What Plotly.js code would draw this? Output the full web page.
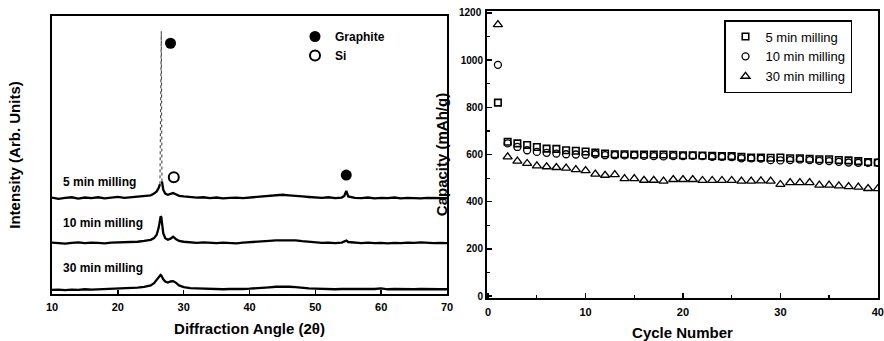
<!DOCTYPE html>
<html>
<head>
<meta charset="utf-8">
<script src="https://cdn.plot.ly/plotly-3.0.1.min.js"></script>
<style>
  html, body { margin: 0; padding: 0; background: #fff; }
  #chart { width: 884px; height: 341px; }
</style>
</head>
<body>
<div id="chart"></div>
<script>
// ---- XRD patterns (2θ in degrees, intensity in arbitrary units above each baseline) ----
const twoTheta = [10,11,12,13,14,15,16,17,18,19,20,21,22,23,24,25,
  25.5,25.9,26.2,26.4,26.5,26.6,26.7,26.9,27.2,27.6,28.0,28.4,28.8,29.3,
  30,31,32,33,34,35,36,37,38,39,40,41,42,43,44,45,46,47,48,49,50,51,52,53,54,
  54.4,54.7,55,
  56,57,58,59,60,61,62,63,64,65,66,67,68,69,70];

const xrd5min = [0.2,-0.3,0.1,0.3,-0.2,0.2,0.0,0.3,-0.1,0.2,0.4,0.1,0.3,0.5,0.6,1.0,
  1.6,2.4,3.6,5.0,40,60,6.0,3.0,1.6,1.2,1.5,1.8,1.4,0.8,
  0.6,0.4,0.2,0.3,0.0,0.2,-0.1,0.1,0.2,0.0,0.2,0.4,0.6,0.9,1.1,1.2,1.0,0.9,0.6,0.4,0.3,0.1,0.3,0.0,0.2,
  0.8,2.6,0.6,
  0.1,0.0,0.2,-0.1,0.1,0.0,0.2,-0.1,0.1,0.0,-0.1,0.1,0.0,-0.1,0.0];

const xrd10min = [0.2,0.0,-0.2,0.1,0.3,0.0,0.2,0.1,-0.1,0.2,0.3,0.2,0.4,0.5,0.8,1.2,
  1.8,3.0,5.5,8.5,9.6,9.4,7.2,3.6,1.8,1.2,1.6,2.3,1.5,0.8,
  0.5,0.3,0.1,0.3,0.1,0.0,0.2,0.1,-0.1,0.2,0.3,0.4,0.6,0.8,1.0,1.0,0.9,1.0,0.7,0.5,0.3,0.1,0.2,0.0,0.2,
  0.5,0.9,0.4,
  0.1,0.0,0.2,0.0,0.1,-0.1,0.1,0.0,0.2,0.1,0.3,0.1,0.0,0.1,0.0];

const xrd30min = [0.0,0.1,-0.1,0.1,0.0,0.2,0.1,0.2,0.3,0.2,0.4,0.5,0.6,0.8,1.1,1.6,
  2.4,3.6,4.6,5.2,5.4,5.2,4.7,3.8,3.0,2.6,3.0,3.1,2.6,1.6,
  1.0,0.6,0.5,0.4,0.3,0.3,0.2,0.3,0.2,0.3,0.4,0.5,0.7,0.9,1.1,1.2,1.1,1.0,0.7,0.5,0.4,0.3,0.3,0.2,0.3,
  0.3,0.4,0.3,
  0.2,0.3,0.2,0.3,0.5,0.2,0.3,0.2,0.3,0.2,0.3,0.2,0.3,0.2,0.2];

// Phase markers above the reflections
const graphiteAngle = [28.0, 54.7];
const graphiteLevel = [90.2, 42.8];
const siAngle = [28.5];
const siLevel = [42.0];

const sampleLabels = ['5 min milling', '10 min milling', '30 min milling'];

// ---- Cycling capacity (mAh/g) ----
const cycles = [1,2,3,4,5,6,7,8,9,10,11,12,13,14,15,16,17,18,19,20,
  21,22,23,24,25,26,27,28,29,30,31,32,33,34,35,36,37,38,39,40];
const cap5min = [820,654,647,640,632,625,624,618,616,613,608,604,601,601,600,600,600,600,599,597,
  597,596,594,593,593,590,587,587,586,587,584,584,582,580,580,577,575,572,568,566];
const cap10min = [980,647,632,618,611,607,604,601,600,599,601,597,597,596,596,594,593,592,593,593,
  594,593,590,590,589,584,584,583,576,575,576,579,576,573,572,569,566,565,565,565];
const cap30min = [1150,590,572,562,552,548,545,542,536,532,517,512,515,498,498,491,491,487,494,494,
  494,490,490,490,490,487,487,488,487,473,481,481,481,470,470,467,464,462,456,455];

const cycleTicks = [0, 10, 20, 30, 40];
const capacityTicks = [0, 200, 400, 600, 800, 1000, 1200];
const capacityTop = 1200;

// ---- drawing ----
const FONT = 'Liberation Sans, Arial, Helvetica, sans-serif';
const stackOffset = [34.5, 18.3, 1.5];   // vertical stacking of the three patterns
const spikeFrom = 26.45, spikeTo = 26.65; // narrow graphite (002) spike drawn with a fine line

function stacked(vals, off) { return vals.map(v => v + off); }

const y5 = stacked(xrd5min, stackOffset[0]);
const y5Solid = y5.map((v, i) => (twoTheta[i] > spikeFrom && twoTheta[i] < spikeTo) ? null : v);
const spikeIdx = twoTheta.map((t, i) => i).filter(i => twoTheta[i] >= 26.4 && twoTheta[i] <= 26.7);

const lineStyle = { color: '#000', width: 2.3 };

const traces = [
  { x: twoTheta, y: y5Solid, mode: 'lines', line: lineStyle, showlegend: false, hoverinfo: 'skip', xaxis: 'x', yaxis: 'y', connectgaps: false },
  { x: spikeIdx.map(i => twoTheta[i]), y: spikeIdx.map(i => y5[i]), mode: 'lines',
    line: { color: '#444', width: 1.1, dash: 'dot' }, showlegend: false, hoverinfo: 'skip', xaxis: 'x', yaxis: 'y' },
  { x: twoTheta, y: stacked(xrd10min, stackOffset[1]), mode: 'lines', line: lineStyle, showlegend: false, hoverinfo: 'skip', xaxis: 'x', yaxis: 'y' },
  { x: twoTheta, y: stacked(xrd30min, stackOffset[2]), mode: 'lines', line: lineStyle, showlegend: false, hoverinfo: 'skip', xaxis: 'x', yaxis: 'y' },
  { x: graphiteAngle, y: graphiteLevel, mode: 'markers', name: 'Graphite', legend: 'legend2',
    marker: { symbol: 'circle', size: 11, color: '#000' }, xaxis: 'x', yaxis: 'y' },
  { x: siAngle, y: siLevel, mode: 'markers', name: 'Si', legend: 'legend2',
    marker: { symbol: 'circle-open', size: 10, color: '#000', line: { width: 2, color: '#000' } }, xaxis: 'x', yaxis: 'y' },

  { x: cycles, y: cap5min, mode: 'markers', name: '5 min milling', legend: 'legend',
    marker: { symbol: 'square-open', size: 6.5, color: '#000', line: { width: 1.6, color: '#000' } }, xaxis: 'x2', yaxis: 'y2' },
  { x: cycles, y: cap10min, mode: 'markers', name: '10 min milling', legend: 'legend',
    marker: { symbol: 'circle-open', size: 7, color: '#000', line: { width: 1.3, color: '#000' } }, xaxis: 'x2', yaxis: 'y2' },
  { x: cycles, y: cap30min, mode: 'markers', name: '30 min milling', legend: 'legend',
    marker: { symbol: 'triangle-up-open', size: 8, color: '#000', line: { width: 1.3, color: '#000' } }, xaxis: 'x2', yaxis: 'y2' }
];

const tickFont = { family: FONT, size: 11, color: '#000', weight: 'bold' };
const titleFont = { family: FONT, size: 15, color: '#000', weight: 'bold' };

const rightX = [487/884, 878/884];
const rightY = [1 - 298/341, 1 - 11/341];

const labelY = [40.3, 25.5, 9.35];
const annotations = sampleLabels.map((t, i) => ({
  text: t, x: 11.3, y: labelY[i], xref: 'x', yref: 'y', xanchor: 'left', yanchor: 'middle',
  showarrow: false, font: { family: FONT, size: 12, color: '#000', weight: 'bold' }
}));
// top capacity label sits right on the frame corner, so it is placed explicitly
annotations.push({
  text: String(capacityTop), x: rightX[0], xref: 'paper', y: capacityTop, yref: 'y2',
  xanchor: 'right', yanchor: 'middle', xshift: -3, showarrow: false,
  font: { family: FONT, size: 10, color: '#000', weight: 'bold' }
});
// axis labels for every capacity tick except the top one drawn above
const capacityTickText = capacityTicks.map(v => v === capacityTop ? '' : String(v));

const layout = {
  width: 884, height: 341, autosize: false,
  margin: { l: 0, r: 0, t: 0, b: 0 },
  paper_bgcolor: '#fff', plot_bgcolor: '#fff',
  showlegend: true,
  xaxis: {
    domain: [52/884, 447/884], range: [10, 70], dtick: 10, tick0: 10,
    ticks: 'inside', ticklen: 4, tickwidth: 1.5, tickcolor: '#000',
    showline: true, linewidth: 2, linecolor: '#000', mirror: true,
    showgrid: false, zeroline: false, tickfont: tickFont, ticklabelstandoff: 2,
    title: { text: 'Diffraction Angle (2θ)', font: titleFont, standoff: 11 },
    anchor: 'y', fixedrange: true
  },
  yaxis: {
    domain: [1 - 294/341, 1 - 16/341], range: [0, 100],
    showticklabels: false, ticks: '',
    showline: true, linewidth: 2, linecolor: '#000', mirror: true,
    showgrid: false, zeroline: false,
    title: { text: 'Intensity (Arb. Units)', font: titleFont, standoff: 26 },
    anchor: 'x', fixedrange: true
  },
  xaxis2: {
    domain: rightX, range: [-0.12, 40.02], tickmode: 'array', tickvals: cycleTicks,
    ticks: 'inside', ticklen: 5, tickwidth: 1.5, tickcolor: '#000',
    minor: { tickvals: [5, 15, 25, 35], ticks: 'inside', ticklen: 3, tickwidth: 1.2, tickcolor: '#000' },
    showline: true, linewidth: 2, linecolor: '#000', mirror: true,
    showgrid: false, zeroline: false, tickfont: tickFont, ticklabelstandoff: 3,
    ticklabeloverflow: 'allow',
    title: { text: 'Cycle Number', font: titleFont, standoff: 12 },
    anchor: 'y2', fixedrange: true
  },
  yaxis2: {
    domain: rightY, range: [-8, 1208], tickmode: 'array', tickvals: capacityTicks, ticktext: capacityTickText,
    ticks: 'inside', ticklen: 5, tickwidth: 1.5, tickcolor: '#000',
    minor: { tickvals: [100, 300, 500, 700, 900, 1100], ticks: 'inside', ticklen: 3, tickwidth: 1.2, tickcolor: '#000' },
    showline: true, linewidth: 2, linecolor: '#000', mirror: true,
    showgrid: false, zeroline: false,
    tickfont: { family: FONT, size: 10, color: '#000', weight: 'bold' },
    ticklabeloverflow: 'allow',
    title: { text: 'Capacity (mAh/g)', font: titleFont, standoff: 10 },
    anchor: 'x2', fixedrange: true
  },
  legend: {
    x: 724/884, y: 1 - 20/341, xanchor: 'left', yanchor: 'top',
    bgcolor: '#fff', bordercolor: '#000', borderwidth: 1.5,
    font: { family: FONT, size: 13, color: '#000' },
    tracegroupgap: 0, itemclick: false, itemdoubleclick: false
  },
  legend2: {
    x: 295/884, y: 1 - 22/341, xanchor: 'left', yanchor: 'top',
    bgcolor: 'rgba(0,0,0,0)', borderwidth: 0,
    font: { family: FONT, size: 12, color: '#000', weight: 'bold' },
    tracegroupgap: 0, itemclick: false, itemdoubleclick: false
  },
  annotations: annotations
};

Plotly.newPlot('chart', traces, layout, { displayModeBar: false, staticPlot: true });
</script>
</body>
</html>
